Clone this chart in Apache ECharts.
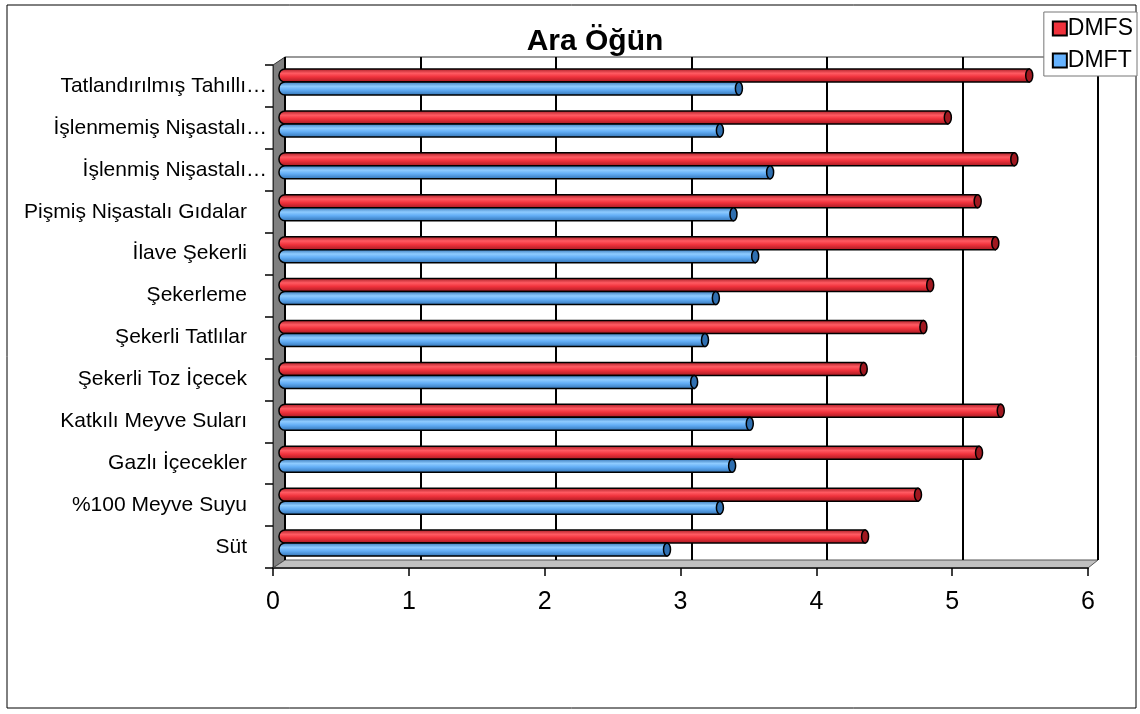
<!DOCTYPE html>
<html><head><meta charset="utf-8">
<script src="https://cdn.jsdelivr.net/npm/echarts@6/dist/echarts.min.js"></script>
<style>html,body{margin:0;padding:0;background:#fff}#c{width:1140px;height:714px}</style>
</head><body><div id="c"></div>
<script>
const categories = ['Tatlandırılmış Tahıllı…','İşlenmemiş Nişastalı…','İşlenmiş Nişastalı…','Pişmiş Nişastalı Gıdalar','İlave Şekerli','Şekerleme','Şekerli Tatlılar','Şekerli Toz İçecek','Katkılı Meyve Suları','Gazlı İçecekler','%100 Meyve Suyu','Süt'];
const dmfs = [5.53,4.93,5.42,5.15,5.28,4.80,4.75,4.31,5.32,5.16,4.71,4.32];
const dmft = [3.39,3.25,3.62,3.35,3.51,3.22,3.14,3.06,3.47,3.34,3.25,2.86];
const xTicks = ['0','1','2','3','4','5','6'];

const FONT = '"Liberation Sans", Arial, sans-serif';
const chart = echarts.init(document.getElementById('c'));

function cyl(colorLight, colorMid, colorDark, offset) {
  return function (params, api) {
    const v = api.value(1), ci = api.value(0);
    const p0 = api.coord([0, ci]);
    const p1 = api.coord([v, ci]);
    const h = 13;
    const y = p0[1] + offset - h / 2;
    return {
      type: 'group',
      children: [
        { type: 'rect', shape: { x: p0[0], y: y, width: p1[0] - p0[0], height: h, r: [6,0,0,6] },
          style: { fill: new echarts.graphic.LinearGradient(0,0,0,1,[
            {offset:0,color:colorDark},{offset:0.35,color:colorLight},{offset:0.6,color:colorMid},{offset:1,color:colorDark}]),
            stroke: '#000', lineWidth: 1.5 } },
        { type: 'ellipse', shape: { cx: p1[0], cy: y + h/2, rx: 3.5, ry: h/2 },
          style: { fill: colorDark, stroke: '#000', lineWidth: 1.5 } }
      ]
    };
  };
}

const idx = categories.map((c,i)=>i);
const yData = categories.map(c => c.endsWith('…') ? { value: c } : { value: c, textStyle: { padding: [0, 20, 0, 0] } });

chart.setOption({
  animation: false,
  title: { text: 'Ara Öğün', left: 590, textAlign: 'center', top: 22,
    textStyle: { fontFamily: FONT, fontSize: 30, fontWeight: 'bold', color: '#000' } },
  legend: { orient: 'vertical', right: 3, top: 12, data: ['DMFS','DMFT'],
    backgroundColor: '#fff', borderColor: '#777', borderWidth: 1, padding: [5,4,4,8],
    itemWidth: 14, itemHeight: 14, itemGap: 9, icon: 'rect',
    itemStyle: { borderColor: '#000', borderWidth: 2 },
    textStyle: { fontFamily: FONT, fontSize: 23, color: '#000', padding: [0,0,0,-4] } },
  graphic: [
    { type: 'rect', shape: { x: 7, y: 5, width: 1129, height: 703 }, style: { fill: 'none', stroke: '#000', lineWidth: 1 }, z: -10 },
    { type: 'polygon', shape: { points: [[273,65],[285,57],[285,560],[273,568]] }, style: { fill: '#808080', stroke: '#333', lineWidth: 1 }, z: -5 },
    { type: 'polygon', shape: { points: [[273,568],[285,560],[1098,560],[1088,568]] }, style: { fill: '#c0c0c0', stroke: '#555', lineWidth: 1 }, z: -5 },
    { type: 'polyline', shape: { points: [[285,57],[1098,57],[1098,560]] }, style: { stroke: '#999', lineWidth: 2, fill: 'none' }, z: -5 }
  ],
  grid: [
    { left: 285, right: 1140-1098, top: 57, bottom: 714-560 },
    { left: 279, right: 1140-1093, top: 61, bottom: 714-564 },
    { left: 273, right: 1140-1088, top: 65, bottom: 714-568 }
  ],
  xAxis: [
    { gridIndex: 0, type: 'value', min: 0, max: 6, interval: 1, axisLabel: { show: false }, axisTick: { show: false }, axisLine: { show: false },
      splitLine: { show: true, lineStyle: { color: '#000', width: 2 } } },
    { gridIndex: 1, type: 'value', min: 0, max: 6, interval: 1, show: false },
    { gridIndex: 2, type: 'value', min: 0, max: 6, interval: 1, splitLine: { show: false },
      axisLine: { show: true, lineStyle: { color: '#333', width: 2 } },
      axisTick: { show: true, length: 8, lineStyle: { color: '#000', width: 1.5 } },
      axisLabel: { fontFamily: FONT, fontSize: 25, color: '#000', margin: 22, formatter: (v) => xTicks[v] } }
  ],
  yAxis: [
    { gridIndex: 0, type: 'category', data: categories, inverse: true, show: false },
    { gridIndex: 1, type: 'category', data: categories, inverse: true, show: false },
    { gridIndex: 2, type: 'category', data: yData, inverse: true,
      axisLine: { show: true, lineStyle: { color: '#333', width: 1 } },
      axisTick: { show: true, length: 8, inside: false, lineStyle: { color: '#000', width: 1.5 } },
      axisLabel: { fontFamily: FONT, fontSize: 21, color: '#000', margin: 6 } }
  ],
  series: [
    { name: 'DMFS', type: 'custom', xAxisIndex: 1, yAxisIndex: 1, color: '#f0323c',
      renderItem: cyl('#ff5a62', '#f0323c', '#a01820', -6.5),
      encode: { x: 1, y: 0 }, data: idx.map(i => [i, dmfs[i]]), z: 5 },
    { name: 'DMFT', type: 'custom', xAxisIndex: 1, yAxisIndex: 1, color: '#66b3ff',
      renderItem: cyl('#8ecbff', '#62adf5', '#2f6fb0', 6.5),
      encode: { x: 1, y: 0 }, data: idx.map(i => [i, dmft[i]]), z: 5 }
  ]
});
</script></body></html>
